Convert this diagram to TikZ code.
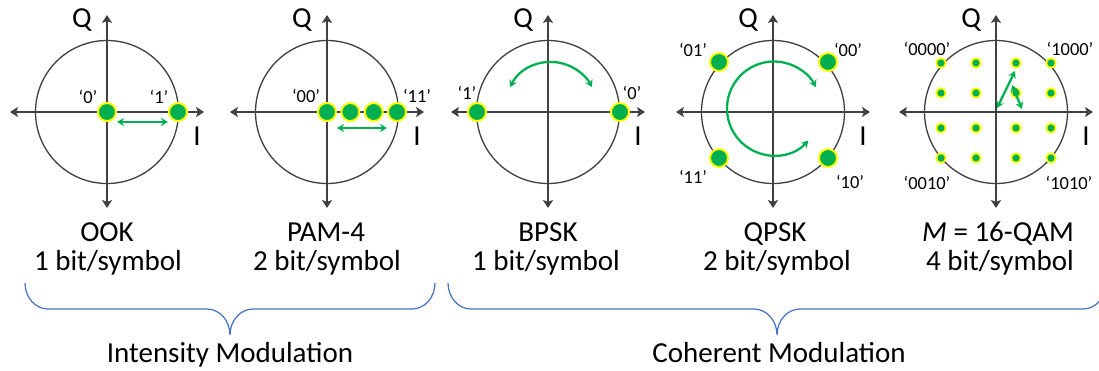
\documentclass[tikz,border=0pt]{standalone}
\usepackage{fontspec}
\setmainfont{Carlito}
\usetikzlibrary{positioning, arrows.meta, calc}
\definecolor{axisgray}{HTML}{404040}
\definecolor{dotgreen}{HTML}{00B050}
\definecolor{dotyellow}{HTML}{FFFF00}
\definecolor{braceblue}{HTML}{4472C4}

\begin{document}
\begin{tikzpicture}[x=0.02cm, y=0.02cm, >={Stealth[length=4.5pt, width=5.7pt, inset=1pt]}]

    % --- Stile ---
    \tikzset{
        axis/.style={draw=axisgray, line width=1.4pt, <->},
        ring/.style={draw=axisgray, line width=0.75pt},
        dot/.style={circle, fill=dotgreen, draw=dotyellow, line width=1.1pt, minimum size=0.36cm, inner sep=0pt},
        smalldot/.style={dot, minimum size=0.19cm, line width=1pt},
        garrow/.style={draw=dotgreen, line width=1.3pt, {Stealth[length=4pt, width=4.6pt]}-{Stealth[length=4pt, width=4.6pt]}},
        bitlabel/.style={font=\fontsize{10.5}{12}\selectfont, inner sep=0pt},
        axlabel/.style={font=\fontsize{16.5}{19}\selectfont, inner sep=0pt},
        title/.style={font=\fontsize{16.5}{19}\selectfont, inner sep=0pt, anchor=base},
        brace/.style={draw=braceblue, line width=0.7pt}
    }

    \useasboundingbox (0,0) rectangle (1099,-370);

    % --- Achsen und Kreise ---
    \foreach \cx in {107,327,548,773,996} {
        \draw[ring] (\cx,-112) circle[radius=71.5];
        \draw[axis] (\cx-97,-112) -- (\cx+97,-112);
        \draw[axis] (\cx,-208) -- (\cx,-15);
        \node[axlabel] (Q\cx) at (\cx-25,-20) {Q};
        \node[axlabel] (I\cx) at (\cx+90,-136) {I};
    }

    % --- OOK ---
    \node[dot] (ook0) at (107,-112) {};
    \node[dot] (ook1) at (178,-112) {};
    \node[bitlabel] (ooklab0) at (88,-97) {‘0’};
    \node[bitlabel] (ooklab1) at (159,-97) {‘1’};
    \draw[garrow] ($(ook0)+(10,-10)$) -- ($(ook1)+(-10,-10)$);

    % --- PAM-4 ---
    \node[dot] (pam0) at (327,-112) {};
    \node[dot] (pam1) at (350.3,-112) {};
    \node[dot] (pam2) at (373.7,-112) {};
    \node[dot] (pam3) at (397,-112) {};
    \node[bitlabel] (pamlab0) at (306,-96) {‘00’};
    \node[bitlabel] (pamlab3) at (417,-96) {‘11’};
    \draw[garrow] ($(pam0)+(10,-16)$) -- ($(pam3)+(-10,-16)$);

    % --- BPSK ---
    \node[dot] (bpsk1) at (477,-112) {};
    \node[dot] (bpsk0) at (620,-112) {};
    \node[bitlabel] (bpsklab1) at (467,-93) {‘1’};
    \node[bitlabel] (bpsklab0) at (632,-93) {‘0’};
    \draw[garrow] (551,-108) ++(153:46) arc[start angle=153, end angle=27, radius=46];

    % --- QPSK ---
    \node[dot] (qpsk01) at (719,-62) {};
    \node[dot] (qpsk00) at (828,-62) {};
    \node[dot] (qpsk11) at (719,-158) {};
    \node[dot] (qpsk10) at (828,-158) {};
    \node[bitlabel] (qpsklab01) at (693,-50) {‘01’};
    \node[bitlabel] (qpsklab00) at (848,-50) {‘00’};
    \node[bitlabel] (qpsklab11) at (693,-177) {‘11’};
    \node[bitlabel] (qpsklab10) at (850,-182) {‘10’};
    \draw[garrow] (774,-108.5) ++(-43:47) arc[start angle=-43, end angle=-333, radius=47];

    % --- 16-QAM ---
    \coordinate (qamorigin) at (996,-112);
    \foreach \i/\dx in {0/-55,1/-20,2/20,3/55} {
        \foreach \j/\dy in {0/-49,1/-19,2/16,3/46} {
            \node[smalldot] (qam\i\j) at (996+\dx,-112-\dy) {};
        }
    }
    \node[bitlabel] (qamlab00) at (927,-49) {‘0000’};
    \node[bitlabel] (qamlab30) at (1070,-49) {‘1000’};
    \node[bitlabel] (qamlab03) at (927,-183) {‘0010’};
    \node[bitlabel] (qamlab33) at (1069,-183) {‘1010’};
    \draw[garrow] ($(qamorigin)+(1,4)$) -- ($(qam20)+(-1,-8)$);
    \draw[garrow] ($(qam21)+(-4,8)$) -- ($(qam21)+(6,-16)$);

    % --- Beschriftungen ---
    \node[title] (ookname)  at (107,-241) {OOK};
    \node[title] (ookrate)  at (108,-270) {1 bit/symbol};
    \node[title] (pamname)  at (326,-241) {PAM-4};
    \node[title] (pamrate)  at (327,-270) {2 bit/symbol};
    \node[title] (bpskname) at (548,-241) {BPSK};
    \node[title] (bpskrate) at (546,-270) {1 bit/symbol};
    \node[title] (qpskname) at (775,-241) {QPSK};
    \node[title] (qpskrate) at (777,-270) {2 bit/symbol};
    \node[title] (qamname)  at (998,-241) {\textit{M} = 16-QAM};
    \node[title] (qamrate)  at (1000,-270) {4 bit/symbol};

    % --- Klammern ---
    \begin{scope}
        \clip (0,0) rectangle (1099,-370);
        \draw[brace] (25,-283) arc[start angle=180, end angle=270, x radius=23, y radius=26]
            -- (207,-309) arc[start angle=90, end angle=0, x radius=23, y radius=26]
            arc[start angle=180, end angle=90, x radius=23, y radius=26]
            -- (412,-309) arc[start angle=270, end angle=360, x radius=23, y radius=26];
        \draw[brace] (448,-283) arc[start angle=180, end angle=270, x radius=23, y radius=26]
            -- (754,-309) arc[start angle=90, end angle=0, x radius=23, y radius=26]
            arc[start angle=180, end angle=90, x radius=23, y radius=26]
            -- (1083,-309) arc[start angle=270, end angle=360, x radius=23, y radius=26];
    \end{scope}
    \node[title] (intmod) at (230,-362) {Intensity Modulation};
    \node[title] (cohmod) at (779,-362) {Coherent Modulation};

\end{tikzpicture}
\end{document}
